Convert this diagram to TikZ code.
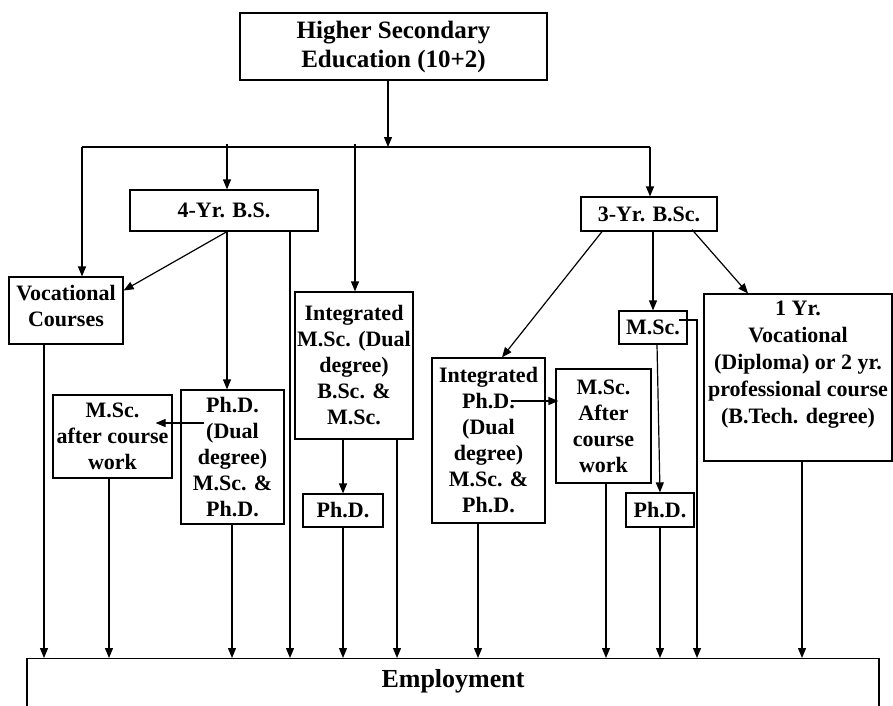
\documentclass[tikz,border=0pt]{standalone}
\usepackage{fontspec}
\setmainfont{Liberation Serif}
\usetikzlibrary{arrows.meta,positioning}
\tikzset{
    box/.style={draw, line width=1.2pt, align=center, inner sep=1pt,
        font=\bfseries\fontsize{22}{26}\selectfont},
    arr/.style={line width=1.2pt, -{Triangle[length=10pt,width=8pt]}},
    link/.style={line width=1.2pt}
}
\begin{document}
\begin{tikzpicture}[x=1pt,y=-1pt]
    \useasboundingbox (0,0) rectangle (893,705);
    % boxes
    \node[box, minimum width=307pt, minimum height=67pt, font=\bfseries\fontsize{25}{29}\selectfont] (hse) at (393.5,46.5) {Higher Secondary\\Education (10+2)};
    \node[box, minimum width=188pt, minimum height=41pt] (bs4) at (224,210.5) {4-Yr. B.S.};
    \node[box, minimum width=136pt, minimum height=34pt] (bsc3) at (649,214) {3-Yr. B.Sc.};
    \node[box, minimum width=114pt, minimum height=67pt, text depth=10pt] (voc) at (66,310.5) {Vocational\\Courses};
    \node[box, minimum width=119pt, minimum height=83pt] (mscA) at (112.5,436.5) {M.Sc.\\after course\\work};
    \node[box, minimum width=103pt, minimum height=134pt] (phdA) at (232.5,457) {Ph.D.\\(Dual\\degree)\\M.Sc. \&\\Ph.D.};
    \node[box, minimum width=118pt, minimum height=147pt] (intmsc) at (354,365.5) {Integrated\\M.Sc. (Dual\\degree)\\B.Sc. \&\\M.Sc.};
    \node[box, minimum width=80pt, minimum height=33pt] (phdB) at (343,510.5) {Ph.D.};
    \node[box, minimum width=113pt, minimum height=165pt] (intphd) at (488.5,440.5) {Integrated\\Ph.D.\\(Dual\\degree)\\M.Sc. \&\\Ph.D.};
    \node[box, minimum width=95pt, minimum height=114pt] (mscB) at (603.5,426) {M.Sc.\\After\\course\\work};
    \node[box, minimum width=68pt, minimum height=33pt] (msc) at (653,327.5) {M.Sc.};
    \node[box, minimum width=68pt, minimum height=34pt] (phdC) at (660,510) {Ph.D.};
    \node[box, minimum width=188pt, minimum height=167pt] (voc1) at (798,377.5) {};
    \node[box, draw=none, anchor=north, below=6pt of voc1.north, font=\bfseries\fontsize{22}{27}\selectfont] (voc1txt) {1 Yr.\\Vocational\\(Diploma) or 2 yr.\\professional course\\(B.Tech. degree)};
    \node[box, anchor=north, minimum width=852pt, text height=24pt, text depth=30pt, inner ysep=4.5pt,
        font=\bfseries\fontsize{26}{30}\selectfont] (emp) at (453,658) {Employment};
    % distribution line
    \coordinate (hub) at (388,147);
    \coordinate (hl) at (82,147);
    \coordinate (hr) at (650,147);
    \coordinate (tbs) at (227,144);
    \coordinate (tint) at (355,144);
    \draw[arr] (hse.south -| hub) -- (hub);
    \draw[link] (hl) -- (hr);
    \draw[arr] (hl) -- (hl |- voc.north);
    \draw[arr] (hr) -- (hr |- bsc3.north);
    \draw[arr] (tbs) -- (tbs |- bs4.north);
    \draw[arr] (tint) -- (tint |- intmsc.north);
    % 4-yr branch
    \draw[arr] (bs4.south -| tbs) -- ([yshift=20pt]voc.east);
    \draw[arr] (bs4.south -| tbs) -- (tbs |- phdA.north);
    \draw[arr] ([xshift=24pt,yshift=34pt]phdA.west) -- ([xshift=-17pt,yshift=13.5pt]mscA.east);
    \draw[arr] (intmsc.south -| phdB.north) -- (phdB.north);
    % 3-yr branch
    \draw[arr] ([xshift=-47pt]bsc3.south) -- ([xshift=13.5pt]intphd.north);
    \draw[arr] (bsc3.south -| msc.north) -- (msc.north);
    \draw[arr] ([xshift=43pt,yshift=2pt]bsc3.south) -- ([xshift=-50pt]voc1.north);
    \draw[arr] ([xshift=-35pt,yshift=39.5pt]intphd.east) -- ([xshift=3pt,yshift=25pt]mscB.west);
    \draw[arr] ([xshift=4pt]msc.south) -- (phdC.north);
    \coordinate (mtip) at (697,0);
    \draw[arr] ([xshift=-9pt,yshift=7.5pt]msc.east) -| (mtip |- emp.north);
    % to employment
    \foreach \n/\x in {voc/44, mscA/109, phdA/232, bs4/290, phdB/343, intmsc/397, intphd/478, mscB/606, phdC/660, voc1/802}{
        \coordinate (tip) at (\x,0);
        \draw[arr] (\n.south -| tip) -- (tip |- emp.north);
    }
\end{tikzpicture}
\end{document}
